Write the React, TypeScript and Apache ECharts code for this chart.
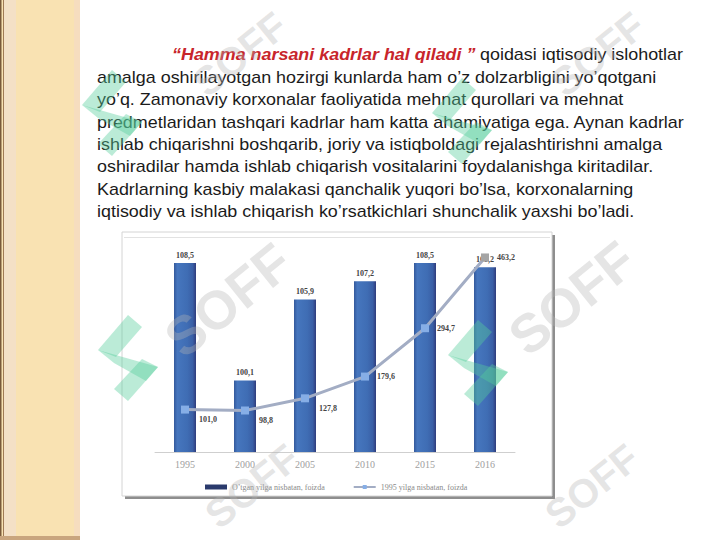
import React, { useEffect, useRef } from "react";
import * as echarts from "echarts";

const categories = ["1995", "2000", "2005", "2010", "2015", "2016"];
const barValues = [108.5, 100.1, 105.9, 107.2, 108.5, 108.2];
const lineValues = [101.0, 98.8, 127.8, 179.6, 294.7, 463.2];
const seriesNames = ["O’tgan yilga nisbatan, foizda", "1995 yilga nisbatan, foizda"];

const quoteText = "“Hamma narsani kadrlar hal qiladi ”";
const firstLineRest = "qoidasi iqtisodiy islohotlar";
const paragraphLines = [
  "amalga oshirilayotgan hozirgi kunlarda ham o’z dolzarbligini yo’qotgani",
  "yo’q. Zamonaviy korxonalar faoliyatida mehnat qurollari va mehnat",
  "predmetlaridan tashqari kadrlar ham katta ahamiyatiga ega. Aynan kadrlar",
  "ishlab chiqarishni boshqarib, joriy va istiqboldagi rejalashtirishni amalga",
  "oshiradilar hamda ishlab chiqarish vositalarini foydalanishga kiritadilar.",
  "Kadrlarning kasbiy malakasi qanchalik yuqori bo’lsa, korxonalarning",
  "iqtisodiy va ishlab chiqarish ko’rsatkichlari shunchalik yaxshi bo’ladi.",
];
// [x, y, fontSize]
const watermarkSpots = [
  [240, 54, 40],
  [598, 54, 40],
  [228, 300, 54],
  [572, 298, 54],
  [252, 486, 40],
  [592, 486, 40],
];
const logoSpots = [
  [112, 110],
  [462, 118],
  [128, 355],
  [478, 360],
];

const fmt = (v: number) => v.toFixed(1).replace(".", ",");

export default function App() {
  const ref = useRef<HTMLDivElement>(null);
  useEffect(() => {
    if (!ref.current) return;
    const chart = echarts.init(ref.current, undefined, { renderer: "svg" });
    const textFont = '16px "Liberation Sans", Arial, sans-serif';
    const sx = 1.12;
    const graphics: any[] = [
      { type: "rect", z: -20, shape: { x: 0, y: 0, width: 80, height: 540 }, style: { fill: "#F9E2B2" } },
      { type: "rect", z: -19, shape: { x: 4, y: 0, width: 12, height: 540 }, style: { fill: "#F4E0C6" } },
      { type: "rect", z: -19, shape: { x: 74, y: 0, width: 6, height: 540 }, style: { fill: "#F6DDBF" } },
      { type: "rect", z: -18, shape: { x: 0, y: 0, width: 1.5, height: 540 }, style: { fill: "#7a5a3a" } },
      { type: "rect", z: -18, shape: { x: 3, y: 0, width: 1, height: 540 }, style: { fill: "#a07a55" } },
      { type: "rect", z: -18, shape: { x: 0, y: 536, width: 80, height: 4 }, style: { fill: "#c9a57e" } },
      // chart picture frame
      { type: "rect", z: -15, shape: { x: 125, y: 235, width: 430, height: 264 }, style: { fill: "#8e8e8e" } },
      { type: "rect", z: -14, shape: { x: 122, y: 232, width: 430, height: 264 }, style: { fill: "#ffffff", stroke: "#d4d4d4", lineWidth: 1 } },
      { type: "rect", z: -13, shape: { x: 124, y: 237, width: 426, height: 1 }, style: { fill: "#e2e2e2" } },
      // text
      {
        type: "text", z: 5, x: 172, y: 55, scaleX: sx,
        style: { text: quoteText, font: 'italic bold 16px "Liberation Sans", Arial, sans-serif', fill: "#C8252B", verticalAlign: "middle" },
      },
      {
        type: "text", z: 5, x: 480, y: 55, scaleX: sx,
        style: { text: firstLineRest, font: textFont, fill: "#1b1b1b", verticalAlign: "middle" },
      },
      ...paragraphLines.map((t, i) => ({
        type: "text", z: 5, x: 97, y: 78 + i * 22.3, scaleX: sx,
        style: { text: t, font: textFont, fill: "#1b1b1b", verticalAlign: "middle" },
      })),
      ...watermarkSpots.map(([x, y, fs]) => ({
        type: "text", z: 50, x, y, rotation: 0.68,
        style: {
          text: "SOFF", font: `bold ${fs}px "Liberation Sans", Arial, sans-serif`, fill: "#b4b4b4",
          opacity: 0.35, align: "center", verticalAlign: "middle",
        },
      })),
      ...logoSpots.flatMap(([x, y]) => [
        {
          type: "polygon", z: 49, x, y,
          shape: { points: [[-30, -5], [0, -40], [14, -28], [-12, 2]] },
          style: { fill: "#55cc9c", opacity: 0.4 },
        },
        {
          type: "polygon", z: 49, x, y,
          shape: { points: [[-30, -5], [-14, 8], [18, 26], [30, 12]] },
          style: { fill: "#55cc9c", opacity: 0.4 },
        },
        {
          type: "polygon", z: 49, x, y,
          shape: { points: [[30, 12], [0, 46], [-14, 34], [14, 4]] },
          style: { fill: "#55cc9c", opacity: 0.4 },
        },
      ]),
    ];

    chart.setOption({
      animation: false,
      backgroundColor: "#ffffff",
      graphic: graphics,
      grid: { left: 155, right: 205, top: 242, bottom: 88, containLabel: false },
      legend: {
        top: 478,
        left: 200,
        itemGap: 28,
        itemWidth: 22,
        itemHeight: 5,
        textStyle: { fontSize: 8, color: "#8a8a8a", fontFamily: "Liberation Serif, serif" },
        data: [
          { name: seriesNames[0], icon: "rect", itemStyle: { color: "#2a3a6c" } },
          { name: seriesNames[1] },
        ],
      },
      xAxis: {
        type: "category",
        data: categories,
        axisLine: { lineStyle: { color: "#cfcfcf", width: 1 } },
        axisTick: { show: false },
        axisLabel: { color: "#a0a0a0", fontSize: 10, fontFamily: "Liberation Serif, serif", margin: 7 },
      },
      yAxis: [
        { type: "value", min: 95, max: 110, show: false, splitLine: { show: false } },
        { type: "value", min: 0, max: 500, show: false, splitLine: { show: false } },
      ],
      series: [
        {
          name: seriesNames[0],
          type: "bar",
          yAxisIndex: 0,
          barWidth: 22,
          data: barValues,
          itemStyle: {
            color: new echarts.graphic.LinearGradient(0, 0, 1, 0, [
              { offset: 0, color: "#34599c" },
              { offset: 0.15, color: "#4676be" },
              { offset: 0.6, color: "#3f6db4" },
              { offset: 0.85, color: "#3a5fa6" },
              { offset: 1, color: "#2f3c7c" },
            ]),
          },
          label: {
            show: true,
            position: "top",
            distance: 4,
            formatter: (p: any) => fmt(p.value),
            fontSize: 8,
            fontWeight: "bold",
            color: "#444",
            fontFamily: "Liberation Serif, serif",
          },
        },
        {
          name: seriesNames[1],
          type: "line",
          yAxisIndex: 1,
          z: 5,
          data: lineValues.map((v, i) => ({
            value: v,
            itemStyle: { color: i === lineValues.length - 1 ? "#a5a5a5" : "#86aee6" },
            label: { offset: i < 3 ? [2, 10] : [0, 0] },
          })),
          symbol: "rect",
          symbolSize: 8,
          lineStyle: { color: "#a3adc4", width: 3 },
          itemStyle: { color: "#86aee6" },
          label: {
            show: true,
            position: "right",
            distance: 8,
            formatter: (p: any) => fmt(p.value),
            fontSize: 8,
            fontWeight: "bold",
            color: "#444",
            fontFamily: "Liberation Serif, serif",
          },
        },
      ],
    });
    return () => chart.dispose();
  }, []);
  return (
    <div
      ref={ref}
      style={{ position: "fixed", left: 0, top: 0, width: 720, height: 540 }}
    />
  );
}
